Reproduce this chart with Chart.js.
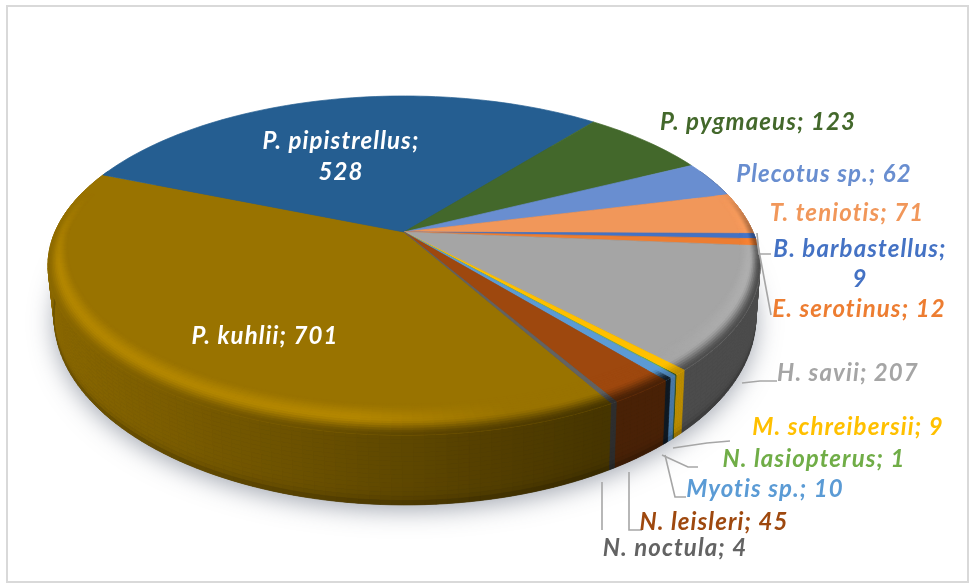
<!DOCTYPE html>
<html><head><meta charset="utf-8">
<style>html,body{margin:0;padding:0;background:#fff}canvas{display:block;filter:blur(0.45px)}</style>
<script src="https://cdn.jsdelivr.net/npm/chart.js@4"></script>
</head><body><canvas id="c" width="971" height="583"></canvas>
<script>
const species=["P. kuhlii","P. pipistrellus","P. pygmaeus","Plecotus sp.","T. teniotis","B. barbastellus","E. serotinus","H. savii","M. schreibersii","N. lasiopterus","Myotis sp.","N. leisleri","N. noctula"];
const counts=[701,528,123,62,71,9,12,207,9,1,10,45,4];
const colors=["#997300","#255E91","#43682B","#698ED0","#F1975A","#4472C4","#ED7D31","#A5A5A5","#FFC000","#70AD47","#5B9BD5","#9E480E","#636363"];
const labelColors=["#ffffff","#ffffff","#43682B","#698ED0","#F1975A","#4472C4","#ED7D31","#A5A5A5","#FFC000","#70AD47","#5B9BD5","#9E480E","#636363"];
const labelAt=[[265,336],[341,141,172],[758,122],[824,174],[847,213],[860,249,279],[859,309],[848,373],[848,427],[814,459],[765,489],[714,522],[675,548]];
const leaders=[null,null,null,null,null,[[757,233],[759,254],[771,254]],[[757,240],[771,315]],[[742,383],[760,381],[777,381]],[[673,448],[707,443],[730,441]],[[662,455],[688,467],[698,467]],[[665,455],[675,497],[686,497]],[[629,472],[629,530],[642,530]],[[602,482],[602,530]]];
const sideGain=[[1,1],[1,1],[1,1],[1,1],[1,1],[1,1],[1,1],[1,1],[1.6,1.6],[1,1],[1.7,0.35],[1,1],[1,1]];

const P=0.1976;
const TOP={cx:404,y0:232,A:349,B:162.9};
const BOT={cx:405,y0:280,A:344,B:180.5};
const DEG=Math.PI/180;
function pt(g,t,r){const X=r*Math.cos(t),Y=r*Math.sin(t),w=1-P*Y;return [g.cx+g.A*X/w,g.y0+g.B*Y/w];}
function rgb(h){return [1,3,5].map(i=>parseInt(h.substr(i,2),16));}
function shade(c,f){return `rgb(${c.map(v=>Math.min(255,Math.round(v*f))).join(",")})`;}
function clamp(v,a,b){return Math.max(a,Math.min(b,v));}
function sideF(x){return clamp(0.9-(x-50)/550*0.44,0.46,0.9);}
function hiF(x){if(x<350)return 1.17;if(x<520)return 1.17-0.17*(x-350)/170;if(x>680)return 1+0.06*(x-680)/80;return 1;}
function poly(ctx,pts,col){ctx.beginPath();pts.forEach((p,i)=>i?ctx.lineTo(p[0],p[1]):ctx.moveTo(p[0],p[1]));ctx.closePath();ctx.fillStyle=col;ctx.fill();ctx.strokeStyle=col;ctx.lineWidth=0.7;ctx.stroke();}
function inset(t){return 0.042+0.085*Math.max(0,Math.sin(t));}

const pie3d={id:"pie3d",beforeDatasetsDraw(chart){
  const ctx=chart.ctx,arcs=chart.getDatasetMeta(0).data;
  ctx.save();
  ctx.fillStyle="#fff";ctx.fillRect(0,0,971,583);
  ctx.strokeStyle="#d9d9d9";ctx.lineWidth=2;ctx.strokeRect(7,6,961,576);
  ctx.save();ctx.shadowColor="rgba(70,80,100,0.5)";ctx.shadowBlur=24;ctx.shadowOffsetY=5;
  ctx.beginPath();for(let a=0;a<360;a+=2){const p=pt(BOT,a*DEG,1);a?ctx.lineTo(p[0],p[1]):ctx.moveTo(p[0],p[1]);}
  ctx.closePath();ctx.fillStyle="#333";ctx.fill();ctx.restore();
  const steps=a=>{const s=a.startAngle,e=a.endAngle,n=Math.max(4,Math.ceil((e-s)/(1.5*DEG)));return {s,d:(e-s)/n,n};};
  arcs.forEach((a,i)=>{const c=rgb(colors[i]),q=steps(a),gn=sideGain[i];
    for(let k=0;k<q.n;k++){const t0=q.s+k*q.d,t1=t0+q.d;
      if(Math.sin(t0)<-0.4&&Math.sin(t1)<-0.4)continue;
      const a0=pt(TOP,t0,1),a1=pt(TOP,t1,1),b0=pt(BOT,t0,1),b1=pt(BOT,t1,1);
      const f=sideF((a0[0]+a1[0])/2)*(k<q.n/2?gn[0]:gn[1]);
      const V=16;for(let j=0;j<V;j++){const u=j/V,v=(j+1)/V,m=(p,r,w)=>[p[0]+(r[0]-p[0])*w,p[1]+(r[1]-p[1])*w];
        const dark=1-0.3*Math.pow((j+0.5)/V,14);
        poly(ctx,[m(a0,b0,u),m(a1,b1,u),m(a1,b1,v),m(a0,b0,v)],shade(c,f*dark));}
    }});
  arcs.forEach((a,i)=>{const q=steps(a),pts=[pt(TOP,0,0)];for(let k=0;k<=q.n;k++)pts.push(pt(TOP,q.s+k*q.d,1));poly(ctx,pts,colors[i]);});
  arcs.forEach((a,i)=>{const c=rgb(colors[i]),q=steps(a),gn=sideGain[i];
    for(let k=0;k<q.n;k++){const t0=q.s+k*q.d,t1=t0+q.d,tm=(t0+t1)/2,sn=Math.sin(tm);
      const vis=clamp((sn+0.25)/0.45,0,1);if(vis<=0)continue;
      const xm=pt(TOP,tm,1)[0],h=hiF(xm),f=sideF(xm)*(k<q.n/2?gn[0]:gn[1]),R=14;
      const ra=(t,w)=>1-inset(t)*(1-w);
      for(let j=0;j<R;j++){const u=j/R,v=(j+1)/R,tt=(u+v)/2;
        let g;if(tt<0.5){const w=tt/0.5;g=1+(h-1)*w*w*(3-2*w);}else{const w=(tt-0.5)/0.5;g=h+(f-h)*w*w*(3-2*w);}
        g=1+(g-1)*vis;
        poly(ctx,[pt(TOP,t0,ra(t0,u)),pt(TOP,t1,ra(t1,u)),pt(TOP,t1,ra(t1,v)),pt(TOP,t0,ra(t0,v))],shade(c,g));}
    }});
  ctx.strokeStyle="#a6a6a6";ctx.lineWidth=1.6;
  leaders.forEach(l=>{if(!l)return;ctx.beginPath();l.forEach((p,i)=>i?ctx.lineTo(p[0],p[1]):ctx.moveTo(p[0],p[1]));ctx.stroke();});
  ctx.font='italic 700 24px Lato';ctx.letterSpacing="1.1px";ctx.textAlign="center";ctx.textBaseline="middle";
  species.forEach((s,i)=>{const at=labelAt[i];ctx.fillStyle=labelColors[i];
    if(at.length===3){ctx.fillText(s+";",at[0],at[1]);ctx.fillText(String(counts[i]),at[0],at[2]);}
    else ctx.fillText(s+"; "+counts[i],at[0],at[1]);});
  ctx.restore();
  return false;
}};
new Chart(document.getElementById("c"),{type:"pie",
  data:{labels:species,datasets:[{data:counts,backgroundColor:colors,borderWidth:0}]},
  options:{responsive:false,animation:false,rotation:150.5,layout:{padding:0},
    plugins:{legend:{display:false},tooltip:{enabled:false}}},
  plugins:[pie3d]});
</script></body></html>
